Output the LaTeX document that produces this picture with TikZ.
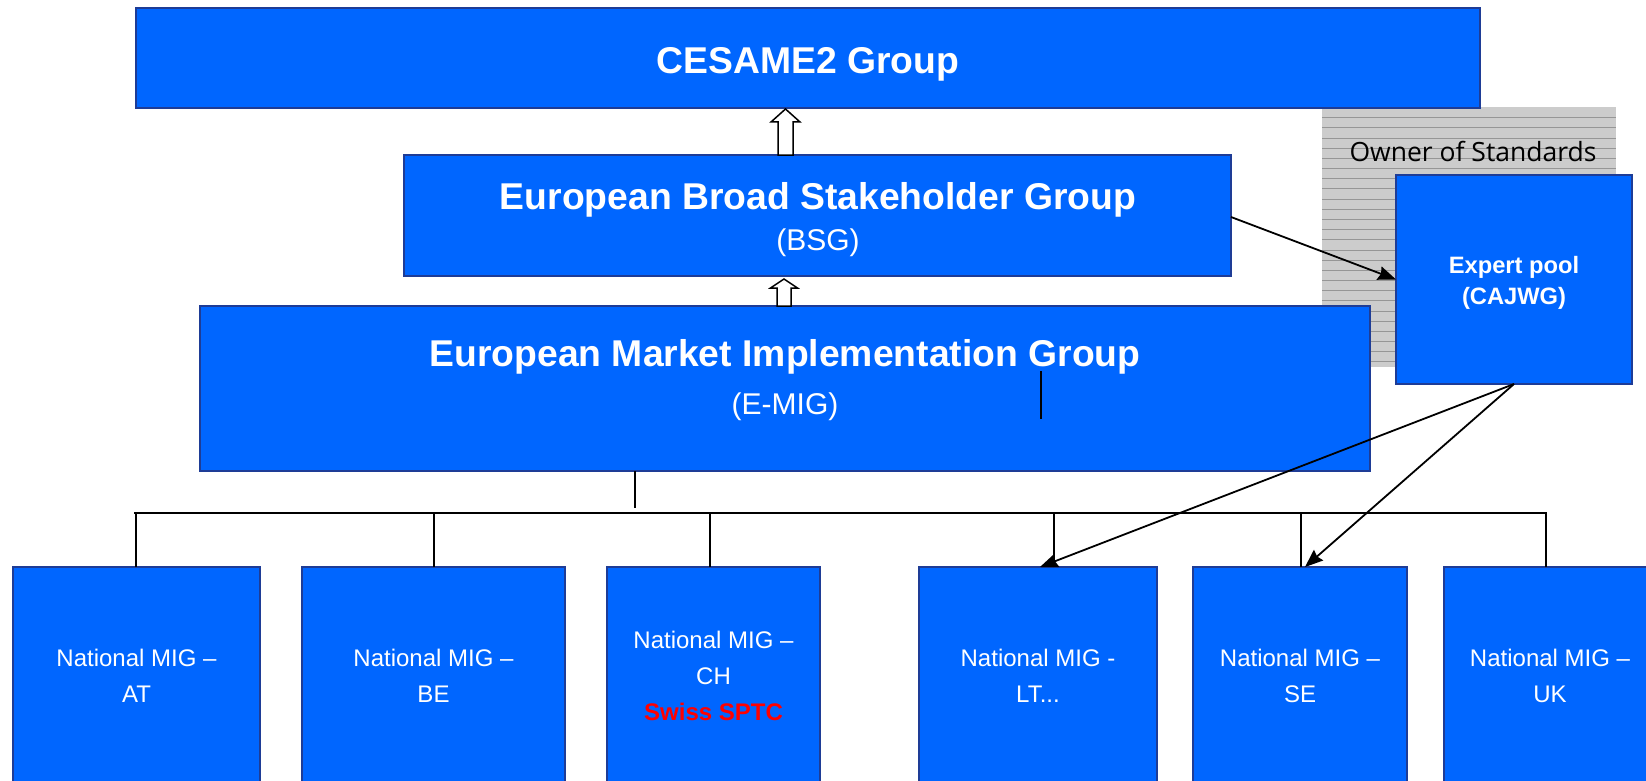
\documentclass[tikz,border=0pt]{standalone}
\usepackage{fontspec}
\setmainfont{Liberation Sans}
\newfontfamily\ownerfont{Open Sans}
\usetikzlibrary{arrows.meta,calc}
\definecolor{boxblue}{RGB}{0,102,255}
\definecolor{boxedge}{RGB}{30,60,150}
\definecolor{patgray}{RGB}{204,204,204}
\definecolor{patline}{RGB}{150,150,150}
\definecolor{swissred}{RGB}{255,0,0}
\begin{document}
\begin{tikzpicture}[x=1pt,y=-1pt,
  box/.style={draw=boxedge, line width=1.2pt, fill=boxblue, text=white, inner sep=0pt, outer sep=0pt, align=center},
  natbox/.style={box, minimum height=218pt, font=\fontsize{24}{36}\selectfont},
  conn/.style={draw=black, line width=1.8pt},
  arr/.style={conn, -{Stealth[length=18pt,width=14pt,inset=2pt]}},
  hollow/.style={draw=black, line width=1.5pt, fill=white, line join=miter},
  titletext/.style={text=white, inner sep=0pt, font=\fontsize{37.3}{41}\selectfont\bfseries},
  subtext/.style={text=white, inner sep=0pt, font=\fontsize{30}{34}\selectfont},
]
\useasboundingbox (0,0) rectangle (1646,781);
\clip (0,0) rectangle (1646,781);

% patterned background area
\fill[patgray] (1322,107) rectangle (1616,367);
\foreach \i in {0,...,24}{
  \draw[patline, line width=0.8pt] (1322,117.7+10.17*\i) -- (1616,117.7+10.17*\i);
}
\node[inner sep=0pt, font=\ownerfont\fontsize{26.5}{30}\selectfont] (owner) at (1473,151) {Owner of Standards};

% main boxes
\node[box, minimum width=1344pt, minimum height=100pt] (cesame) at (808,58) {};
\node[titletext] (cesameT) at (808,64.5) {CESAME2 Group};

\node[box, minimum width=827pt, minimum height=121pt] (bsg) at (817.5,215.5) {};
\node[titletext] (bsgT) at (818,200) {European Broad Stakeholder Group};
\node[subtext] (bsgS) at (818,243) {(BSG)};

\node[box, minimum width=1170pt, minimum height=165pt] (emig) at (785,388.5) {};
\node[titletext] (emigT) at (785,356.5) {European Market Implementation Group};
\node[subtext] (emigS) at (785,407) {(E-MIG)};
\draw[line width=1.8pt] (1041,371) -- (1041,419);

\node[box, minimum width=236pt, minimum height=209pt] (expert) at (1514,279.5) {};
\node[text=white, inner sep=0pt, align=center, font=\fontsize{23.7}{31.5}\selectfont\bfseries] (expertT) at (1514,283) {Expert pool\\(CAJWG)};

% bottom boxes
\node[natbox, minimum width=247pt] (at) at (136.5,676) {National MIG --\\AT};
\node[natbox, minimum width=263pt] (be) at (433.5,676) {National MIG --\\BE};
\node[natbox, minimum width=213pt] (ch) at (713.5,676) {National MIG --\\CH\\{\bfseries\color{swissred}Swiss SPTC}};
\node[natbox, minimum width=238pt] (lt) at (1038,676) {National MIG -\\LT...};
\node[natbox, minimum width=214pt] (se) at (1300,676) {National MIG --\\SE};
\node[natbox, minimum width=212pt] (uk) at (1550,676) {National MIG --\\UK};

% hollow arrows
\draw[hollow] (793,155) -- (778,155) -- (778,122) -- (771,122) -- (785.5,109) -- (800,122) -- (793,122) -- cycle;
\draw[hollow] (791,306) -- (777,306) -- (777,288) -- (770.5,288) -- (784,279) -- (797.5,288) -- (791,288) -- cycle;

% tree connectors
\coordinate (busL) at (134,513);
\coordinate (busR) at (1547,513);
\draw[conn] ([xshift=-150pt]emig.south) -- ++(0,37);
\draw[conn] (busL) -- (busR);
\draw[conn] ([xshift=-0.5pt]at.north) -- ++(0,-54);
\draw[conn] ([xshift=0.5pt]be.north) -- ++(0,-54);
\draw[conn] ([xshift=-3.5pt]ch.north) -- ++(0,-54);
\draw[conn] ([xshift=16pt]lt.north) -- ++(0,-54);
\draw[conn] ([xshift=1pt]se.north) -- ++(0,-54);
\draw[conn] ([xshift=-4pt]uk.north) -- ++(0,-54);

% arrows to/from expert pool
\draw[arr] ([yshift=-1.5pt]bsg.east) -- (expert.west);
\draw[arr] (expert.south) -- ([xshift=2pt]lt.north);
\draw[arr] (expert.south) -- ([xshift=5pt]se.north);
\end{tikzpicture}
\end{document}
